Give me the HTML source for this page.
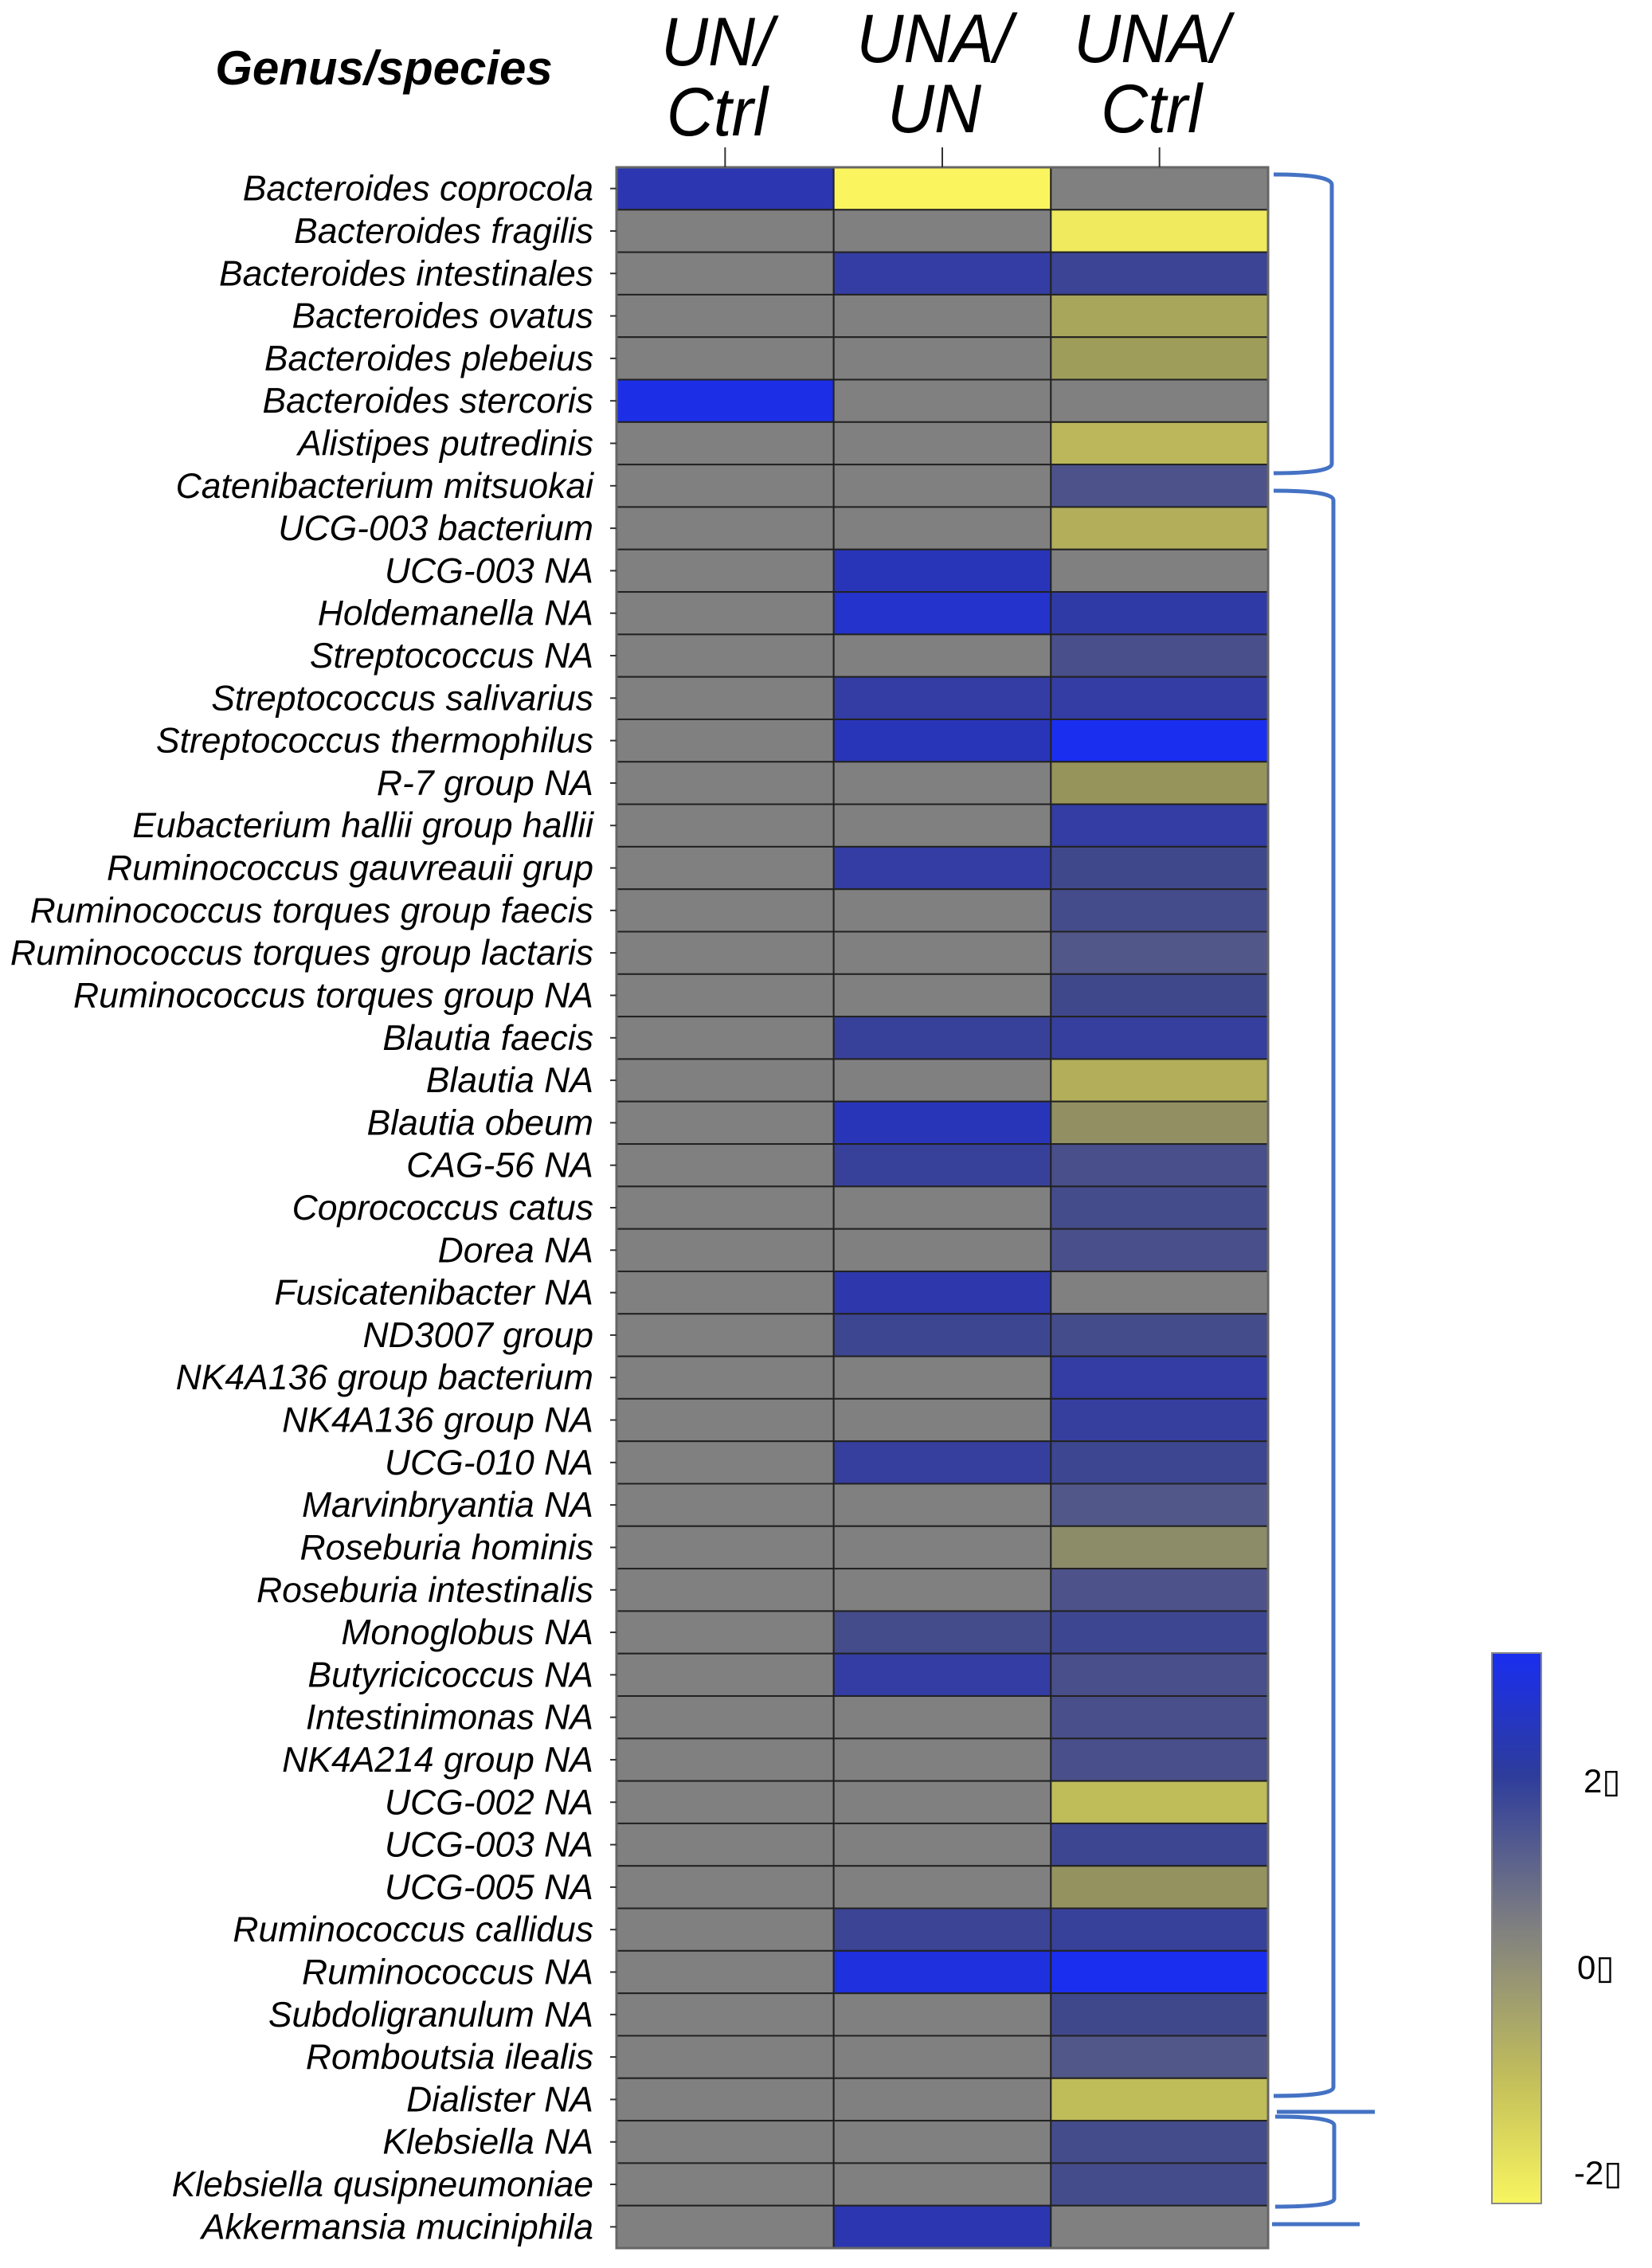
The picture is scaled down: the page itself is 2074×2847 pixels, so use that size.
<!DOCTYPE html>
<html><head><meta charset="utf-8"><style>
html,body{margin:0;padding:0;background:#fff;}
svg{display:block;font-family:"Liberation Sans",sans-serif;}
</style></head><body>
<svg id="chart" width="2074" height="2847" viewBox="0 0 2074 2847">
<defs>
<linearGradient id="cbar" x1="0" y1="0" x2="0" y2="1">
<stop offset="0" stop-color="#1a2ef0"/>
<stop offset="0.22" stop-color="#2d3c9c"/>
<stop offset="0.5" stop-color="#808080"/>
<stop offset="0.78" stop-color="#c4c05a"/>
<stop offset="1" stop-color="#f8f560"/>
</linearGradient>
</defs>
<text x="482" y="106" font-size="60" font-weight="bold" font-style="italic" text-anchor="middle">Genus/species</text>
<g id="heat"></g>
<g id="brackets" fill="none" stroke="#4472c4" stroke-width="5">
<path d="M1599 219 Q1672 219 1672 232 L1672 582 Q1672 594 1599 594"/>
<path d="M1599 616 Q1674 616 1674 628 L1674 2620 Q1674 2631 1599 2631"/>
<path d="M1603 2651 L1726 2651"/>
<path d="M1601 2657 Q1675 2657 1675 2668 L1675 2760 Q1675 2770 1601 2770"/>
<path d="M1597 2792 L1707 2792"/>
</g>
<rect x="1873" y="2075" width="62" height="691" fill="url(#cbar)" stroke="#888" stroke-width="2"/>
<text x="1988" y="2250" font-size="42">2▯</text>
<text x="1980" y="2484" font-size="42">0▯</text>
<text x="1976" y="2742" font-size="42">-2▯</text>
</svg>
<script>
const categories=["Bacteroides coprocola","Bacteroides fragilis","Bacteroides intestinales","Bacteroides ovatus","Bacteroides plebeius","Bacteroides stercoris","Alistipes putredinis","Catenibacterium mitsuokai","UCG-003 bacterium","UCG-003 NA","Holdemanella NA","Streptococcus NA","Streptococcus salivarius","Streptococcus thermophilus","R-7 group NA","Eubacterium hallii group hallii","Ruminococcus gauvreauii grup","Ruminococcus torques group faecis","Ruminococcus torques group lactaris","Ruminococcus torques group NA","Blautia faecis","Blautia NA","Blautia obeum","CAG-56 NA","Coprococcus catus","Dorea NA","Fusicatenibacter NA","ND3007 group","NK4A136 group bacterium","NK4A136 group NA","UCG-010 NA","Marvinbryantia NA","Roseburia hominis","Roseburia intestinalis","Monoglobus NA","Butyricicoccus NA","Intestinimonas NA","NK4A214 group NA","UCG-002 NA","UCG-003 NA","UCG-005 NA","Ruminococcus callidus","Ruminococcus NA","Subdoligranulum NA","Romboutsia ilealis","Dialister NA","Klebsiella NA","Klebsiella qusipneumoniae","Akkermansia muciniphila"];
const columnsLine1=["UN/","UNA/","UNA/"];
const columnsLine2=["Ctrl","UN","Ctrl"];
const valsUNCtrl=[2.3,0,0,0,0,2.9,0,0,0,0,0,0,0,0,0,0,0,0,0,0,0,0,0,0,0,0,0,0,0,0,0,0,0,0,0,0,0,0,0,0,0,0,0,0,0,0,0,0,0];
const valsUNAUN=[-3,0,2.0,0,0,0,0,0,0,2.4,2.6,0,2.0,2.4,0,0,2.0,0,0,0,1.8,0,2.4,1.8,0,0,2.2,1.6,0,0,1.9,0,0,0,1.4,2.0,0,0,0,0,0,1.7,2.8,0,0,0,0,0,2.3];
const valsUNACtrl=[0,-2.8,1.7,-1.4,-1.2,0,-1.8,1.2,-1.6,0,2.1,1.3,2.0,3,-1.0,2.0,1.5,1.4,1.1,1.5,1.9,-1.6,-0.8,1.3,1.4,1.3,0,1.4,2.0,1.9,1.6,1.1,-0.6,1.2,1.6,1.3,1.3,1.3,-1.9,1.6,-0.9,1.8,3,1.5,1.1,-1.9,1.4,1.4,0];
const series=[valsUNCtrl,valsUNAUN,valsUNACtrl];
const colNames=["un-ctrl","una-un","una-ctrl"];
const X0=774,X1=1592,Y0=210,Y1=2822;
const cw=(X1-X0)/3, rh=(Y1-Y0)/categories.length;
const xPos=i=>X0+i*cw, yPos=i=>Y0+i*rh;
const stops=[[-3,[250,245,95]],[-2,[196,192,90]],[-1,[150,148,90]],[0,[128,128,128]],[1.5,[64,72,140]],[2.3,[43,54,176]],[3,[26,46,240]]];
function color(v){v=Math.max(-3,Math.min(3,v));for(let i=0;i<stops.length-1;i++){const a=stops[i],b=stops[i+1];if(v<=b[0]){const t=(v-a[0])/(b[0]-a[0]);const c=a[1].map((x,k)=>Math.round(x+(b[1][k]-x)*t));return `rgb(${c})`;}}return 'gray';}
const NS="http://www.w3.org/2000/svg";
const g=document.getElementById('heat');
function mk(t,a){const e=document.createElementNS(NS,t);for(const k in a)e.setAttribute(k,a[k]);return e;}
series.forEach((vals,c)=>{vals.forEach((v,r)=>{
const e=mk('rect',{x:xPos(c),y:yPos(r),width:cw,height:rh,fill:color(v),stroke:'#222','stroke-width':2});


g.appendChild(e);});});
const fr=mk('rect',{x:X0,y:Y0,width:X1-X0,height:Y1-Y0,fill:'none',stroke:'#666','stroke-width':3});


g.appendChild(fr);
categories.forEach((n,r)=>{
const t=mk('text',{x:745,y:yPos(r)+rh/2+15,'font-size':44.5,'font-style':'italic','text-anchor':'end'});
t.textContent=n;


g.appendChild(t);
const tk=mk('line',{x1:766,x2:774,y1:yPos(r)+rh/2,y2:yPos(r)+rh/2,stroke:'#333','stroke-width':2});


g.appendChild(tk);});
columnsLine1.forEach((l,c)=>{
const cx=xPos(c)+cw/2-10;
const up=c===0?0:-4;
const t1=mk('text',{x:0,y:0,'font-size':86,'font-style':'italic','text-anchor':'middle',transform:`translate(${cx},${82+up}) scale(0.95,1)`});
t1.textContent=l;


g.appendChild(t1);
const t2=mk('text',{x:0,y:0,'font-size':86,'font-style':'italic','text-anchor':'middle',transform:`translate(${cx},${170+up}) scale(0.95,1)`});
t2.textContent=columnsLine2[c];


g.appendChild(t2);
const tx=xPos(c)+cw/2;
const tk=mk('line',{x1:tx,x2:tx,y1:185,y2:210,stroke:'#333','stroke-width':2});


g.appendChild(tk);});
</script>
</body></html>
